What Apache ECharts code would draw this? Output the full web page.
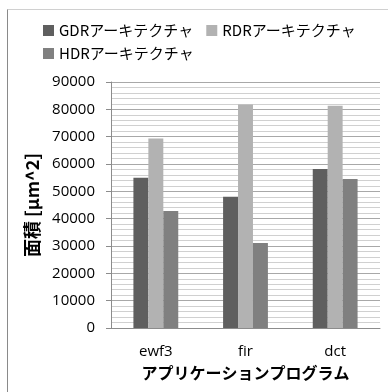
<!DOCTYPE html>
<html>
<head>
<meta charset="utf-8">
<script src="https://cdn.jsdelivr.net/npm/echarts@6/dist/echarts.min.js"></script>
<style>
  html, body { margin: 0; padding: 0; background: #fff; }
  #chart { width: 388px; height: 392px; }
</style>
</head>
<body>
<div id="chart"></div>
<script>
// Application programs on the category axis
var programs = ['ewf3', 'fir', 'dct'];

// Area per architecture [μm^2]
var gdrArea = [55000, 48000, 58200];
var rdrArea = [69300, 81800, 81300];
var hdrArea = [42800, 31100, 54500];

var seriesNames = ['GDRアーキテクチャ', 'RDRアーキテクチャ', 'HDRアーキテクチャ'];
var seriesColors = ['#5f5f5f', '#b2b2b2', '#808080'];

var baseFont = '"Open Sans", "Noto Sans CJK JP", sans-serif';
var jpFont = '"Noto Sans CJK JP", sans-serif';

var chart = echarts.init(document.getElementById('chart'), null, { renderer: 'canvas' });

var values = [gdrArea, rdrArea, hdrArea];
var series = seriesNames.map(function (name, i) {
  return {
    name: name,
    type: 'bar',
    data: values[i],
    barGap: '0%',
    barCategoryGap: '50%',
    itemStyle: { color: seriesColors[i] },
    emphasis: { disabled: true }
  };
});

function legendBlock(items, top) {
  return {
    left: 38,
    top: top,
    orient: 'horizontal',
    itemWidth: 11,
    itemHeight: 11,
    itemGap: 13,
    icon: 'rect',
    selectedMode: false,
    textStyle: { fontFamily: jpFont, fontSize: 15, color: '#000' },
    data: items
  };
}

chart.setOption({
  animation: false,
  textStyle: { fontFamily: baseFont, color: '#000' },
  graphic: [
    {
      type: 'polyline',
      shape: { points: [[7.5, 392], [7.5, 9.5], [388, 9.5]] },
      style: { stroke: '#d0d0d0', lineWidth: 1, fill: null },
      silent: true
    },
    {
      type: 'line',
      shape: { x1: 7.5, y1: 392, x2: 7.5, y2: 9.5 },
      style: { stroke: '#8a8a8a', lineWidth: 1 },
      silent: true
    }
  ],
  legend: [
    legendBlock(seriesNames.slice(0, 2), 18),
    legendBlock(seriesNames.slice(2), 41)
  ],
  grid: { left: 111, right: 8, top: 82, bottom: 64, containLabel: false },
  xAxis: {
    type: 'category',
    data: programs,
    name: 'アプリケーションプログラム',
    nameLocation: 'middle',
    nameGap: 37,
    nameTextStyle: { fontFamily: jpFont, fontSize: 16, fontWeight: 'bold', color: '#000' },
    axisLine: { lineStyle: { color: '#8c8c8c' } },
    axisTick: { show: false },
    axisLabel: { fontSize: 15, color: '#000', margin: 16 }
  },
  yAxis: {
    type: 'value',
    min: 0,
    max: 90000,
    interval: 10000,
    name: '面積 [μm^2]',
    nameLocation: 'middle',
    nameGap: 69,
    nameTextStyle: { fontFamily: jpFont, fontSize: 18, fontWeight: 'bold', color: '#000' },
    axisLine: { show: true, lineStyle: { color: '#8c8c8c' } },
    axisTick: { show: true, length: 5, lineStyle: { color: '#8c8c8c' } },
    axisLabel: {
      fontSize: 15,
      color: '#000',
      margin: 16,
      formatter: function (v) { return String(v); }
    },
    splitLine: { lineStyle: { color: '#a8a8a8' } },
    minorTick: { show: false, splitNumber: 5 },
    minorSplitLine: { show: true, lineStyle: { color: '#d0d0d0' } }
  },
  series: series
});
</script>
</body>
</html>
